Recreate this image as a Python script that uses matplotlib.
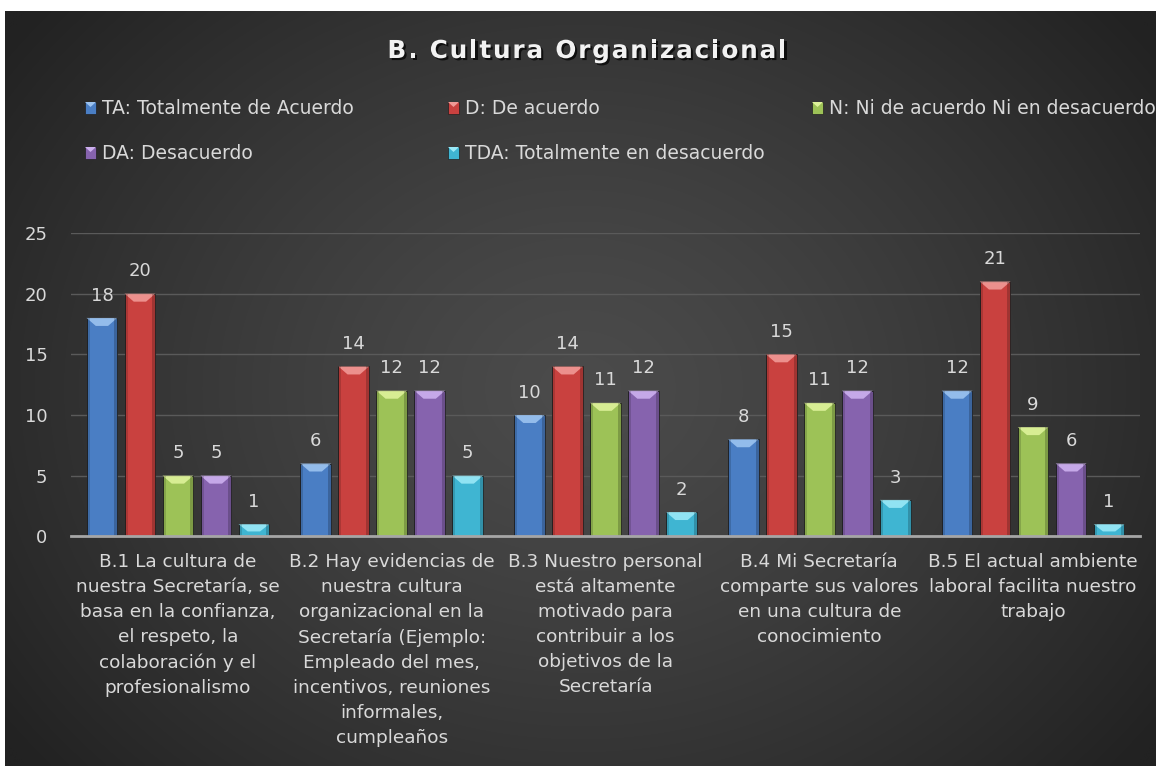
import numpy as np
import matplotlib
matplotlib.use("Agg")
import matplotlib.pyplot as plt
import matplotlib.patheffects as pe
from matplotlib.patches import Rectangle, Polygon
from matplotlib.font_manager import FontProperties, findfont, get_font

# ---------------------------------------------
# Data
# ---------------------------------------------
categories = [
    "B.1 La cultura de\nnuestra Secretaría, se\nbasa en la confianza,\nel respeto, la\ncolaboración y el\nprofesionalismo",
    "B.2 Hay evidencias de\nnuestra cultura\norganizacional en la\nSecretaría (Ejemplo:\nEmpleado del mes,\nincentivos, reuniones\ninformales,\ncumpleaños",
    "B.3 Nuestro personal\nestá altamente\nmotivado para\ncontribuir a los\nobjetivos de la\nSecretaría",
    "B.4 Mi Secretaría\ncomparte sus valores\nen una cultura de\nconocimiento",
    "B.5 El actual ambiente\nlaboral facilita nuestro\ntrabajo",
]
series_names = [
    "TA: Totalmente de Acuerdo",
    "D: De acuerdo",
    "N: Ni de acuerdo Ni en desacuerdo",
    "DA: Desacuerdo",
    "TDA: Totalmente en desacuerdo",
]
ta = [18, 6, 10, 8, 12]
d = [20, 14, 14, 15, 21]
n = [5, 12, 11, 11, 9]
da = [5, 12, 12, 12, 6]
tda = [1, 5, 2, 3, 1]
values = [ta, d, n, da, tda]
yticks = [0, 5, 10, 15, 20, 25]
title = "B. Cultura Organizacional"

body_colors = ["#4a7ec4", "#c9413f", "#9dc257", "#8663ae", "#3fb5d2"]
top_colors = ["#9cc3f0", "#f09a96", "#def29a", "#cdb0ef", "#9ae9f7"]
text_col = "#d9d9d9"

W, H = 1156, 766
fig = plt.figure(figsize=(W / 100, H / 100), dpi=100)
fig.patch.set_facecolor("white")

# ---------------------------------------------
# Background gradient
# ---------------------------------------------
bg = fig.add_axes([5 / W, 0, 1 - 5 / W, 1 - 11 / H])
yy, xx = np.mgrid[0:1:300j, 0:1:450j]
r = np.sqrt(((xx - 0.5) / 0.62) ** 2 + ((yy - 0.5) / 0.78) ** 2)
r = np.clip(r, 0, 1)
c0, c1 = 0x4b / 255, 0x22 / 255
img = c0 + (c1 - c0) * r ** 1.3
bg.imshow(np.dstack([img] * 3), aspect="auto", extent=[0, 1, 0, 1],
          origin="lower", interpolation="bicubic")
bg.axis("off")
bg.set_zorder(-10)

# ---------------------------------------------
# Bars
# ---------------------------------------------
ax = fig.add_axes([71 / W, 1 - 536.3 / H, (1140 - 71) / W, (536.3 - 233) / H])
ax.set_facecolor("none")
ax.set_xlim(-0.5, len(categories) - 0.5)
ax.set_ylim(0, 25)

x = np.arange(len(categories))
step = 0.1777
width = 0.1436
bevel = 25 * 8 / 303.3

for i, vals in enumerate(values):
    pos = x + (i - 2) * step
    bars = ax.bar(pos, vals, width, color=body_colors[i], edgecolor="#202020",
                  linewidth=0.6, zorder=3)
    for p, v in zip(bars, vals):
        x0, w, h = p.get_x(), p.get_width(), p.get_height()
        dh = min(bevel, h * 0.6)
        ax.add_patch(Polygon([(x0, h), (x0 + w, h), (x0 + 0.7 * w, h - dh),
                              (x0 + 0.3 * w, h - dh)], closed=True,
                             facecolor=top_colors[i], edgecolor="none", alpha=0.9, zorder=4))
        ax.add_patch(Rectangle((x0, 0), 0.1 * w, h, facecolor="black",
                               alpha=0.15, edgecolor="none", zorder=4))
        ax.add_patch(Rectangle((x0 + 0.9 * w, 0), 0.1 * w, h, facecolor="black",
                               alpha=0.2, edgecolor="none", zorder=4))
        ax.annotate(str(v), (p.get_x() + w / 2, h), xytext=(0, 12.5),
                    textcoords="offset points", ha="center", va="baseline",
                    fontsize=13, color=text_col)

ax.set_yticks(yticks)
ax.yaxis.grid(True, color="#5a5a5a", linewidth=1)
ax.set_axisbelow(True)
for s in ["top", "right", "left"]:
    ax.spines[s].set_visible(False)
ax.spines["bottom"].set_color("#a6a6a6")
ax.spines["bottom"].set_linewidth(2)
ax.spines["bottom"].set_zorder(5)
ax.tick_params(axis="y", length=0, pad=17, labelsize=13, labelcolor=text_col)
ax.set_xticks(x)
ax.set_xticklabels(categories, fontsize=13.3, color=text_col, linespacing=1.5)
ax.tick_params(axis="x", length=0, pad=12)

# ---------------------------------------------
# Title with letter spacing
# ---------------------------------------------
fp = FontProperties(family="DejaVu Sans", weight="bold", size=17.8)
font = get_font(findfont(fp))
font.set_size(17.8, 100)
adv = [font.load_char(ord(ch)).linearHoriAdvance / 65536 for ch in title]
spacing = 1.8
total = sum(adv) + spacing * (len(title) - 1)
cx = 587 - total / 2
for ch, a in zip(title, adv):
    fig.text(cx / W, 1 - 58 / H, ch, fontproperties=fp, color="#f2f2f2",
             ha="left", va="baseline",
             path_effects=[pe.withSimplePatchShadow(offset=(1.5, -1.5),
                                                   shadow_rgbFace="black", alpha=0.7)])
    cx += a + spacing

# ---------------------------------------------
# Legend
# ---------------------------------------------
leg_pos = [(85, 114), (448, 114), (812, 114), (85, 159), (448, 159)]
for i, (lx, ly) in enumerate(leg_pos):
    fig.add_artist(Rectangle((lx / W, 1 - ly / H), 11 / W, 12 / H,
                             transform=fig.transFigure, facecolor=body_colors[i],
                             edgecolor="#202020", linewidth=0.5))
    fig.add_artist(Polygon([(lx / W, 1 - (ly - 12) / H), ((lx + 11) / W, 1 - (ly - 12) / H),
                            ((lx + 5.5) / W, 1 - (ly - 7) / H)], closed=True,
                           transform=fig.transFigure, facecolor=top_colors[i],
                           edgecolor="none"))
    fig.text((lx + 17) / W, 1 - ly / H, series_names[i], fontsize=13.5,
             color=text_col, ha="left", va="baseline")

fig.savefig("out.png", dpi=100, facecolor=fig.get_facecolor())
